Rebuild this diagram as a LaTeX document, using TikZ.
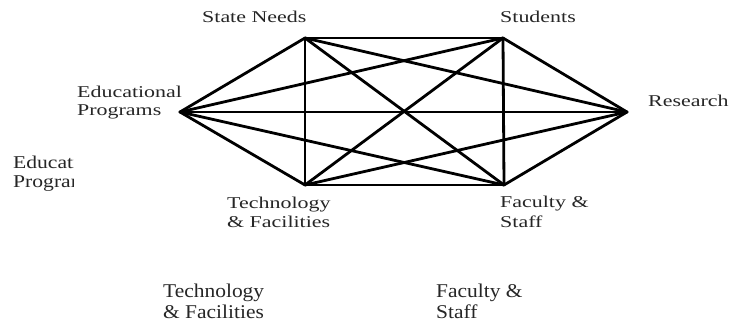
\documentclass[tikz,border=0pt]{standalone}
\usepackage{fontspec}
\setmainfont{Liberation Serif}
\newfontfamily\labfont{Liberation Serif}[FakeStretch=1.33]
\newfontfamily\midfont{Liberation Serif}[FakeStretch=1.2]
\newfontfamily\lowfont{Liberation Serif}[FakeStretch=1.1]
\tikzset{
  lab/.style={anchor=base west, inner sep=0pt, text=black!85, font=\labfont\fontsize{16.5}{18}\selectfont},
  midlab/.style={anchor=base west, inner sep=0pt, text=black!85, font=\midfont\fontsize{18}{20}\selectfont},
  lowlab/.style={anchor=base west, inner sep=0pt, text=black!85, font=\lowfont\fontsize{19.5}{23}\selectfont},
  edge/.style={draw=black, line width=2.8pt, line cap=round, line join=round}
}
\begin{document}
\begin{tikzpicture}[x=1pt, y=-1pt]
\useasboundingbox (0,0) rectangle (731,323);
\fill[white] (0,0) rectangle (731,323);
% vertices
\coordinate (sn) at (305,38);
\coordinate (st) at (503,38);
\coordinate (ep) at (180,112);
\coordinate (re) at (627,112);
\coordinate (tf) at (305,185);
\coordinate (fs) at (504,185);
% complete graph
\foreach \a/\b in {sn/st, sn/ep, sn/re, sn/tf, sn/fs,
                   st/ep, st/re, st/tf, st/fs,
                   ep/re, ep/tf, ep/fs,
                   re/tf, re/fs,
                   tf/fs}
  \draw[edge] (\a) -- (\b);
% labels
\node[lab] (snl) at (202,23) {State Needs};
\node[lab] (stl) at (500,23) {Students};
\node[lab] (epl1) at (77,98) {Educational};
\node[lab] (epl2) at (77,116) {Programs};
\node[lab] (rel) at (648,107) {Research};
\node[lab] (tfl1) at (227,209) {Technology};
\node[lab] (tfl2) at (227,228) {\& Facilities};
\node[lab] (fsl1) at (500,208) {Faculty \&};
\node[lab] (fsl2) at (500,228) {Staff};
% clipped duplicate at left
\begin{scope}
  \clip (0,140) rectangle (73.3,200);
  \node[midlab] (epm1) at (13,169) {Educational};
  \node[midlab] (epm2) at (13,188) {Programs};
\end{scope}
% lower duplicates
\node[lowlab] (tfd1) at (163,297) {Technology};
\node[lowlab] (tfd2) at (163,318) {\& Facilities};
\node[lowlab] (fsd1) at (436,297) {Faculty \&};
\node[lowlab] (fsd2) at (436,318) {Staff};
\end{tikzpicture}
\end{document}
